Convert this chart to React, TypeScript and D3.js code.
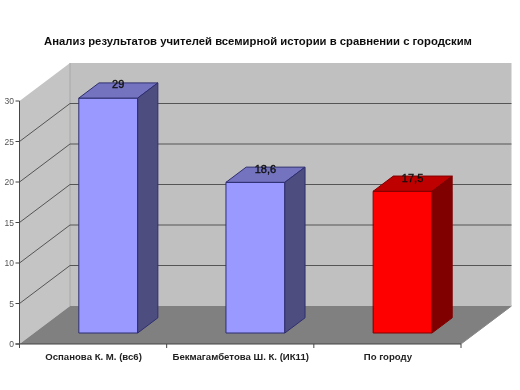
import React from "react";
import * as d3 from "d3";

const categories = ["Оспанова К. М. (вс6)", "Бекмагамбетова Ш. К. (ИК11)", "По городу"];
const values = [29, 18.6, 17.5];
const valueLabels = ["29", "18,6", "17,5"];
const ticks = [0, 5, 10, 15, 20, 25, 30];
const title = "Анализ результатов учителей всемирной истории в сравнении с городским";
const faceColors = ["#9999ff", "#9999ff", "#ff0000"];
const topColors = ["#7373bf", "#7373bf", "#bf0000"];
const sideColors = ["#4d4d80", "#4d4d80", "#800000"];
const edgeColors = ["#2e2e70", "#2e2e70", "#800000"];

const FONT = "'Liberation Sans', Arial, sans-serif";
const W = 520, H = 390;
const x0 = 19.5, x1 = 461, yBase = 344, yTop = 101;
const depthX = 50.5, depthY = -38;

const x = d3.scaleBand<string>().domain(categories).range([x0, x1]);
const y = d3.scaleLinear().domain([0, 30]).range([yBase, yTop]);
const poly = (p: [number, number][]) => p.map((q) => q.join(",")).join(" ");

export default function App() {
  const bw = x.bandwidth() * 0.4;
  const barDepth = 0.4; // fraction of the chart depth occupied by the bar
  const startDepth = 0.3;
  const bx = startDepth * depthX, by = startDepth * depthY + 0.4;
  const sx = barDepth * depthX, sy = barDepth * depthY;
  return (
    <svg width={W} height={H} style={{ position: "absolute", left: 0, top: 0, background: "#fff" }}>
      <defs>
        <filter id="soft" x="-2%" y="-2%" width="104%" height="104%">
          <feGaussianBlur stdDeviation="0.3" />
        </filter>
      </defs>
      <g filter="url(#soft)">
        <text x={258} y={45} textAnchor="middle" fontFamily={FONT} fontSize={11.3} fontWeight="bold" fill="#111">
          {title}
        </text>
        {/* walls and floor */}
        <polygon points={poly([[x0 + depthX, yTop + depthY], [x1 + depthX, yTop + depthY], [x1 + depthX, yBase + depthY], [x0 + depthX, yBase + depthY]])} fill="#c0c0c0" />
        <polygon points={poly([[x0, yTop], [x0 + depthX, yTop + depthY], [x0 + depthX, yBase + depthY], [x0, yBase]])} fill="#c4c4c4" />
        <polygon points={poly([[x0, yBase], [x1, yBase], [x1 + depthX, yBase + depthY], [x0 + depthX, yBase + depthY]])} fill="#808080" />
        <line x1={x0 + depthX} x2={x0 + depthX} y1={yTop + depthY} y2={yBase + depthY} stroke="#a8a8a8" />
        {/* gridlines */}
        {ticks.slice(1, -1).map((t) => (
          <polyline key={t} fill="none" stroke="#555" strokeWidth={1}
            points={poly([[x0, y(t)], [x0 + depthX, y(t) + depthY], [x1 + depthX, y(t) + depthY]])} />
        ))}
        {/* axes */}
        <line x1={x0} x2={x0} y1={yTop} y2={yBase + 4} stroke="#444" />
        <line x1={x0 - 4} x2={x1} y1={yBase} y2={yBase} stroke="#444" />
        <line x1={x1} x2={x1 + depthX} y1={yBase} y2={yBase + depthY} stroke="#888" />
        {ticks.map((t) => (
          <g key={t}>
            <line x1={x0 - 4} x2={x0} y1={y(t)} y2={y(t)} stroke="#444" />
            <text x={14} y={y(t) + 3} textAnchor="end" fontFamily={FONT} fontSize={8.5} fill="#555">{t}</text>
          </g>
        ))}
        {categories.map((c) => (
          <line key={c} x1={(x(c) as number) + x.bandwidth()} x2={(x(c) as number) + x.bandwidth()} y1={yBase} y2={yBase + 4} stroke="#444" />
        ))}
        {/* bars */}
        {categories.map((c, i) => {
          const l = (x(c) as number) + (x.bandwidth() - bw) / 2 + bx;
          const r = l + bw;
          const b = yBase + by;
          const t = b - (yBase - y(values[i]));
          return (
            <g key={c} stroke={edgeColors[i]} strokeWidth={1} strokeLinejoin="round">
              <polygon points={poly([[l, b], [r, b], [r, t], [l, t]])} fill={faceColors[i]} />
              <polygon points={poly([[l, t], [r, t], [r + sx, t + sy], [l + sx, t + sy]])} fill={topColors[i]} />
              <polygon points={poly([[r, b], [r + sx, b + sy], [r + sx, t + sy], [r, t]])} fill={sideColors[i]} />
            </g>
          );
        })}
        {categories.map((c, i) => {
          const l = (x(c) as number) + (x.bandwidth() - bw) / 2 + bx;
          const b = yBase + by;
          const t = b - (yBase - y(values[i]));
          return (
            <text key={c} x={l + bw / 2 + 10} y={t + sy + 5.5} textAnchor="middle" fontFamily={FONT} fontSize={11} fill="#111" stroke="#111" strokeWidth={0.35}>
              {valueLabels[i]}
            </text>
          );
        })}
        {categories.map((c) => (
          <text key={c} x={(x(c) as number) + x.bandwidth() / 2 + 0.5} y={360} textAnchor="middle" fontFamily={FONT} fontSize={9.6} fontWeight="bold" fill="#222">
            {c}
          </text>
        ))}
      </g>
    </svg>
  );
}
